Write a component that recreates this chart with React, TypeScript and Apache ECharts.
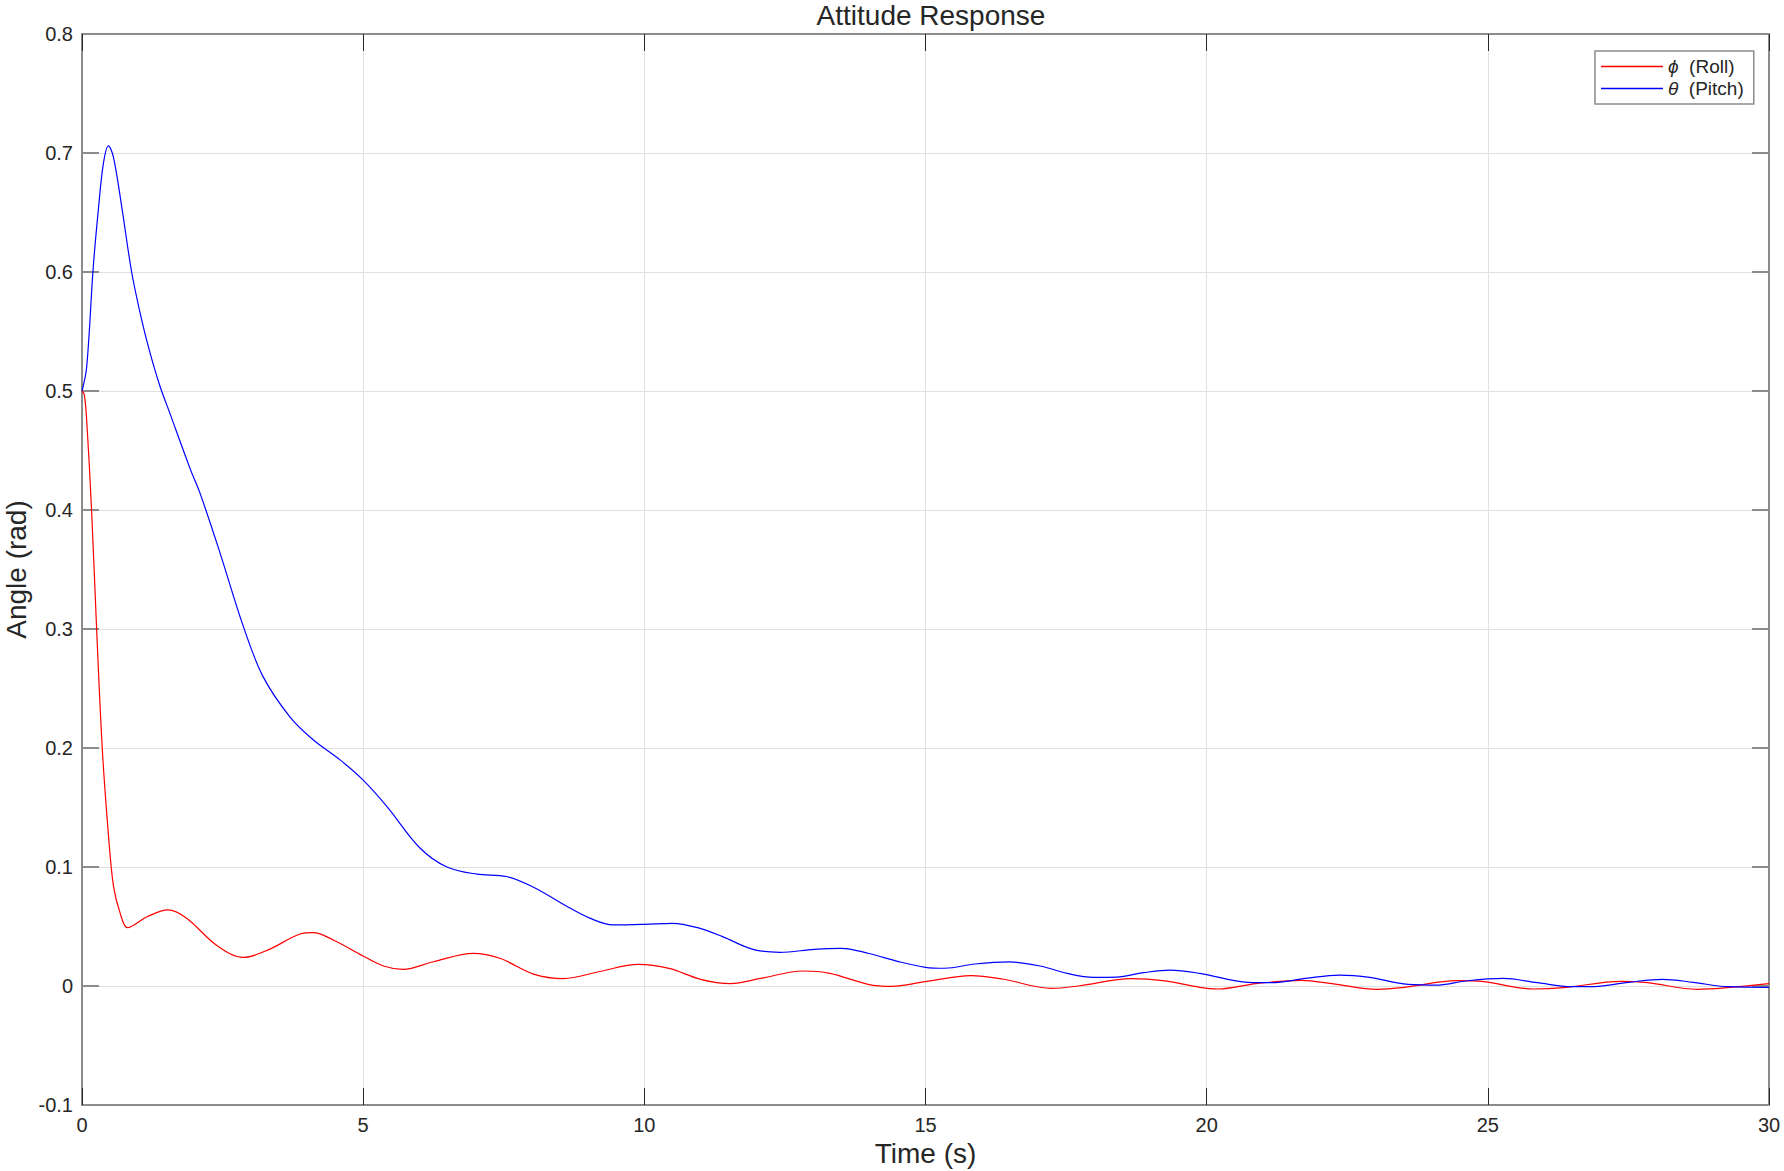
import React, { useEffect, useRef } from "react";
import * as echarts from "echarts";

const rollT = [0, 0.04, 0.08, 0.17, 0.26, 0.36, 0.47, 0.56, 0.68, 0.81, 1.15, 1.53, 1.86, 2.4, 2.87, 3.34, 3.88, 4.11, 4.47, 5.0, 5.36, 5.71, 6.25, 6.96, 7.43, 8.03, 8.56, 9.21, 9.89, 10.44, 11.0, 11.53, 12.07, 12.82, 13.3, 13.98, 14.39, 15.0, 15.81, 16.36, 17.24, 17.72, 18.67, 19.22, 19.88, 20.2, 20.88, 21.69, 22.23, 23.04, 23.51, 24.46, 24.93, 25.81, 26.35, 27.37, 27.84, 28.72, 29.26, 30];
const rollV = [0.5, 0.497, 0.478, 0.4, 0.3, 0.2, 0.127, 0.084, 0.061, 0.049, 0.058, 0.064, 0.057, 0.034, 0.024, 0.031, 0.0437, 0.0448, 0.0387, 0.0252, 0.0168, 0.014, 0.0204, 0.0275, 0.0233, 0.01, 0.0062, 0.0122, 0.0182, 0.0148, 0.0056, 0.002, 0.0064, 0.0126, 0.0106, 0.0014, -0.0003, 0.0036, 0.0087, 0.0059, -0.002, 0.0, 0.0062, 0.0045, -0.0011, -0.0025, 0.002, 0.0048, 0.002, -0.0028, -0.0011, 0.0045, 0.0036, -0.0025, -0.0014, 0.0039, 0.0028, -0.0028, -0.0014, 0.002];

const pitchT = [0, 0.083, 0.2, 0.29, 0.38, 0.47, 0.557, 0.706, 0.883, 1.06, 1.21, 1.387, 1.565, 1.92, 2.1, 2.454, 2.87, 3.22, 3.7, 4.11, 4.59, 5.0, 5.42, 6.01, 6.49, 7.02, 7.55, 8.03, 8.62, 9.03, 9.45, 10.0, 10.5, 10.95, 11.39, 11.93, 12.41, 13.02, 13.5, 13.98, 14.52, 15.0, 15.34, 15.88, 16.49, 17.04, 17.52, 17.99, 18.4, 18.88, 19.35, 19.88, 20.74, 21.15, 21.76, 22.36, 22.9, 23.58, 24.12, 24.6, 25.27, 25.88, 26.49, 26.83, 27.5, 28.11, 28.65, 29.26, 30];
const pitchV = [0.5, 0.52, 0.604, 0.652, 0.691, 0.706, 0.697, 0.655, 0.6, 0.56, 0.532, 0.504, 0.481, 0.435, 0.414, 0.364, 0.302, 0.26, 0.226, 0.207, 0.19, 0.173, 0.151, 0.116, 0.1, 0.094, 0.092, 0.083, 0.067, 0.057, 0.0513, 0.0518, 0.0527, 0.049, 0.0415, 0.0308, 0.0283, 0.0308, 0.0317, 0.0275, 0.0205, 0.0157, 0.0149, 0.0185, 0.0202, 0.0168, 0.0106, 0.0073, 0.0075, 0.0112, 0.0134, 0.0106, 0.0031, 0.0028, 0.0064, 0.0092, 0.0073, 0.0014, 0.0008, 0.0042, 0.0064, 0.0028, -0.0006, -0.0006, 0.0031, 0.0056, 0.0031, -0.0006, -0.0011];

const seriesNames = ["ϕ (Roll)", "θ (Pitch)"];
const seriesColors = ["#ff0000", "#0000ff"];
const titleText = "Attitude Response";
const xName = "Time (s)";
const yName = "Angle (rad)";

const FONT = "'Liberation Sans', Arial, Helvetica, sans-serif";
const TEXT = "#262626";
const FRAME = "#8c8c8c";

function pairs(t: number[], v: number[]) {
  return t.map((x, i) => [x, v[i]]);
}

export default function App() {
  const ref = useRef<HTMLDivElement>(null);
  useEffect(() => {
    if (!ref.current) return;
    const chart = echarts.init(ref.current, null, { renderer: "svg" });
    const xBase = {
      type: "value" as const,
      min: 0,
      max: 30,
      interval: 5,
      axisLine: { show: true, onZero: false, lineStyle: { color: FRAME, width: 2 } },
      axisTick: { show: true, inside: true, length: 17, lineStyle: { color: TEXT, width: 1 } },
    };
    const yBase = {
      type: "value" as const,
      min: -0.1,
      max: 0.8,
      interval: 0.1,
      axisLine: { show: true, onZero: false, lineStyle: { color: FRAME, width: 2 } },
      axisTick: { show: true, inside: true, length: 17, lineStyle: { color: FRAME, width: 2 } },
    };
    chart.setOption({
      animation: false,
      backgroundColor: "#ffffff",
      title: {
        text: titleText,
        left: 926,
        top: -4,
        textAlign: "center",
        textStyle: { fontFamily: FONT, fontSize: 28, fontWeight: "normal", color: TEXT },
      },
      grid: { left: 82, top: 34, right: 15, bottom: 66, containLabel: false, outerBoundsMode: "none" },
      legend: {
        data: seriesNames,
        orient: "vertical",
        left: 1595,
        top: 51,
        icon: "rect",
        itemWidth: 62,
        itemHeight: 1.5,
        itemGap: 3,
        padding: [6, 10, 6, 6],
        borderColor: FRAME,
        borderWidth: 1.5,
        borderRadius: 0,
        backgroundColor: "#ffffff",
        formatter: (name: string) => {
          const idx = name.indexOf(" ");
          return `{i|${name.slice(0, idx)}}{n|  ${name.slice(idx + 1)}}`;
        },
        textStyle: {
          fontFamily: FONT,
          fontSize: 19,
          color: TEXT,
          rich: {
            i: { fontStyle: "italic", fontSize: 19, lineHeight: 21, fontFamily: FONT, color: TEXT },
            n: { fontSize: 19, lineHeight: 21, fontFamily: FONT, color: TEXT },
          },
        },
      },
      xAxis: [
        {
          ...xBase,
          position: "bottom",
          name: xName,
          nameLocation: "middle",
          nameGap: 34,
          nameMoveOverlap: false,
          nameTextStyle: { fontFamily: FONT, fontSize: 28, color: TEXT },
          axisLabel: { show: true, margin: 10, fontFamily: FONT, fontSize: 20, color: TEXT },
          splitLine: { show: true, lineStyle: { color: "#e0e0e0", width: 1 } },
        },
        {
          ...xBase,
          position: "top",
          axisLabel: { show: false },
          splitLine: { show: false },
        },
      ],
      yAxis: [
        {
          ...yBase,
          position: "left",
          name: yName,
          nameLocation: "middle",
          nameGap: 52,
          nameMoveOverlap: false,
          nameTextStyle: { fontFamily: FONT, fontSize: 28, lineHeight: 28, color: TEXT },
          axisLabel: {
            show: true,
            margin: 9,
            fontFamily: FONT,
            fontSize: 20,
            color: TEXT,
            formatter: (v: number) => {
              const r = Math.round(v * 10) / 10;
              return r === 0 ? "0" : String(r);
            },
          },
          splitLine: { show: true, lineStyle: { color: "#e0e0e0", width: 1 } },
        },
        {
          ...yBase,
          position: "right",
          axisLabel: { show: false },
          splitLine: { show: false },
        },
      ],
      series: [
        {
          name: seriesNames[0],
          type: "line",
          xAxisIndex: 0,
          yAxisIndex: 0,
          data: pairs(rollT, rollV),
          symbol: "none",
          showSymbol: false,
          smooth: 0.35,
          lineStyle: { color: seriesColors[0], width: 1.2 },
          itemStyle: { color: seriesColors[0] },
          z: 3,
        },
        {
          name: seriesNames[1],
          type: "line",
          xAxisIndex: 0,
          yAxisIndex: 0,
          data: pairs(pitchT, pitchV),
          symbol: "none",
          showSymbol: false,
          smooth: 0.35,
          lineStyle: { color: seriesColors[1], width: 1.2 },
          itemStyle: { color: seriesColors[1] },
          z: 4,
        },
      ],
    });
    return () => chart.dispose();
  }, []);
  return (
    <div
      ref={ref}
      style={{ position: "fixed", left: 0, top: 0, width: "1784px", height: "1171px", background: "#fff" }}
    />
  );
}
